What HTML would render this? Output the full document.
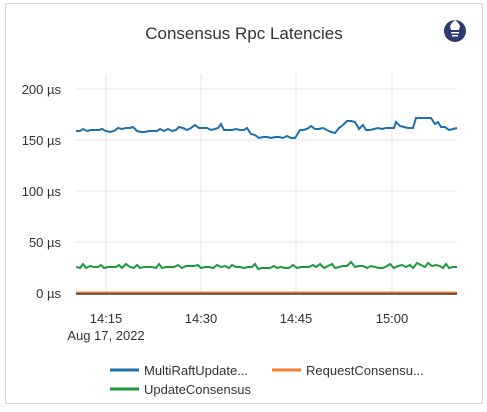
<!DOCTYPE html>
<html><head><style>
body{margin:0;background:#fff;font-family:"Liberation Sans",sans-serif;}
</style></head><body>
<svg width="487" height="407" xmlns="http://www.w3.org/2000/svg" font-family="Liberation Sans, sans-serif">
<rect x="5.5" y="3.5" width="477" height="400" fill="#fff" stroke="#d9d9d9" stroke-width="1"/>
<text x="244" y="39" font-size="17" fill="#333" text-anchor="middle">Consensus Rpc Latencies</text>
<circle cx="455" cy="31" r="11" fill="#2c3a72"/>
<path d="M450 26 q2 -4 5 -6 q3 2 5 6 l-1 4 h-8z" fill="#fff"/>
<rect x="451" y="32" width="8" height="1.5" fill="#fff"/><rect x="452" y="35" width="6" height="1.5" fill="#fff"/>
<g stroke="#e6e6e6" stroke-width="1">
<line x1="76" y1="89" x2="457" y2="89"/><line x1="76" y1="140" x2="457" y2="140"/>
<line x1="76" y1="191" x2="457" y2="191"/><line x1="76" y1="242" x2="457" y2="242"/>
<line x1="106" y1="74" x2="106" y2="293"/><line x1="201" y1="74" x2="201" y2="293"/>
<line x1="296" y1="74" x2="296" y2="293"/><line x1="392" y1="74" x2="392" y2="293"/>
</g>
<g font-size="13" fill="#333" text-anchor="end">
<text x="61" y="94">200 µs</text><text x="61" y="145">150 µs</text>
<text x="61" y="196">100 µs</text><text x="61" y="247">50 µs</text><text x="61" y="298">0 µs</text>
</g>
<line x1="76" y1="292.5" x2="457" y2="292.5" stroke="#f08030" stroke-width="2"/>
<line x1="76" y1="294" x2="457" y2="294" stroke="#222" stroke-width="1.2"/>
<polyline fill="none" stroke="#1f6fae" stroke-width="2" points="76,131 80,131 83,129 87,131 91,130 95,130 99,130 102,129 106,131 110,132 114,131 118,128 122,129 126,128 130,128 133,127 137,131 141,132 145,132 149,131 153,131 157,131 160,129 164,131 168,129 172,131 176,130 179,127 183,128 187,130 191,128 195,125 199,128 203,128 207,128 211,130 215,129 218,128 221,124 224,130 228,130 232,130 236,129 240,130 244,130 247,128 251,134 255,135 259,138 263,137 267,137 271,138 275,137 279,137 283,138 287,136 291,138 295,138 300,130 303,130 307,129 311,126 315,129 319,129 323,128 327,130 331,132 335,133 339,128 343,125 347,121 351,121 355,122 359,129 363,125 366,130 370,130 374,129 378,128 382,129 386,128 390,128 394,128 396,122 400,126 404,127 408,128 413,128 416,118 420,118 424,118 428,118 431,118 435,124 438,122 441,127 445,127 449,130 453,129 457,128"/>
<polyline fill="none" stroke="#1a9a3c" stroke-width="2" points="76,267 80,268 83,264 86,268 90,266 94,267 98,267 101,265 104,268 108,267 112,267 116,267 119,265 122,268 126,264 130,267 134,268 137,265 140,268 144,267 148,267 152,267 156,268 159,264 162,268 166,267 170,267 174,267 178,265 182,268 186,266 190,266 194,266 198,265 201,268 205,267 209,267 213,268 217,265 221,267 225,266 229,268 232,265 236,267 240,267 244,268 248,267 252,267 255,264 258,269 262,268 266,268 270,268 274,266 277,268 281,267 285,268 289,268 293,265 297,268 301,267 305,267 309,267 313,265 316,267 320,264 324,268 328,266 332,264 335,268 339,267 343,266 347,266 351,262 355,267 359,266 363,266 367,268 371,266 375,267 379,268 383,268 387,266 390,264 394,268 398,266 402,265 406,267 410,265 413,268 417,263 421,265 425,267 428,263 432,266 436,265 440,266 443,268 446,264 449,268 453,267 457,267"/>
<g font-size="13" fill="#333" text-anchor="middle">
<text x="106" y="323">14:15</text><text x="201" y="323">14:30</text>
<text x="296" y="323">14:45</text><text x="392" y="323">15:00</text>
<text x="106" y="340">Aug 17, 2022</text>
</g>
<line x1="110" y1="370" x2="139" y2="370" stroke="#1f6fae" stroke-width="3"/>
<text x="144" y="375" font-size="13" fill="#333">MultiRaftUpdate...</text>
<line x1="272" y1="370" x2="301" y2="370" stroke="#f08030" stroke-width="3"/>
<text x="306" y="375" font-size="13" fill="#333">RequestConsensu...</text>
<line x1="110" y1="389" x2="139" y2="389" stroke="#1a9a3c" stroke-width="3"/>
<text x="144" y="394" font-size="13" fill="#333">UpdateConsensus</text>
</svg>
</body></html>
